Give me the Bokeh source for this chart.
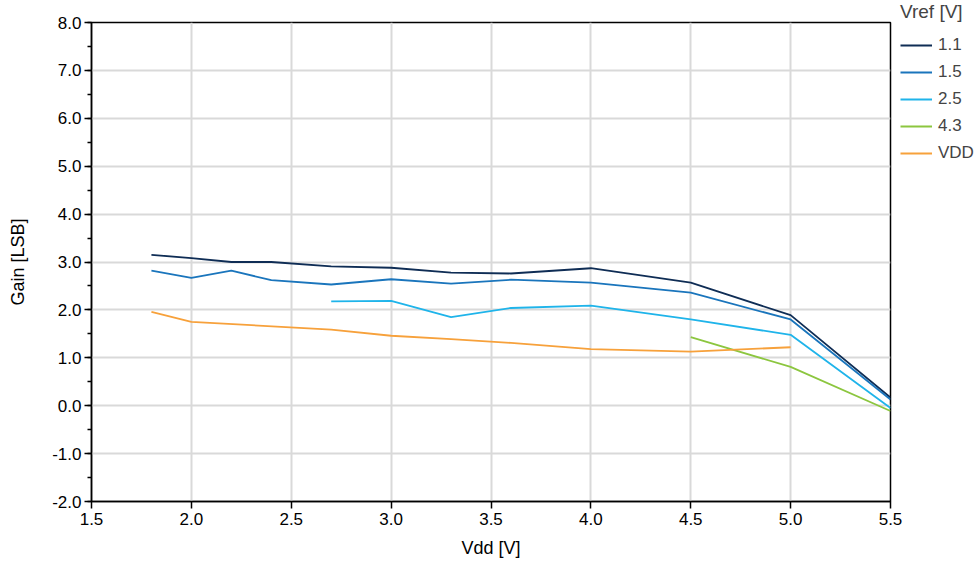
from bokeh.plotting import figure
from bokeh.models import Legend, LegendItem, SingleIntervalTicker, PrintfTickFormatter, Range1d
from bokeh.embed import file_html
from bokeh.resources import INLINE

vdd_11 = [1.8, 2.0, 2.2, 2.4, 2.7, 3.0, 3.3, 3.6, 4.0, 4.5, 5.0, 5.5]
gain_11 = [3.15, 3.08, 3.00, 3.00, 2.91, 2.88, 2.78, 2.76, 2.87, 2.57, 1.89, 0.17]

vdd_15 = [1.8, 2.0, 2.2, 2.4, 2.7, 3.0, 3.3, 3.6, 4.0, 4.5, 5.0, 5.5]
gain_15 = [2.82, 2.67, 2.82, 2.62, 2.53, 2.64, 2.55, 2.63, 2.57, 2.36, 1.80, 0.13]

vdd_25 = [2.7, 3.0, 3.3, 3.6, 4.0, 4.5, 5.0, 5.5]
gain_25 = [2.18, 2.19, 1.85, 2.04, 2.09, 1.80, 1.48, -0.05]

vdd_43 = [4.5, 5.0, 5.5]
gain_43 = [1.43, 0.81, -0.11]

vdd_vdd = [1.8, 2.0, 2.7, 3.0, 3.3, 3.6, 4.0, 4.5, 5.0]
gain_vdd = [1.96, 1.75, 1.59, 1.46, 1.39, 1.31, 1.18, 1.13, 1.22]

series_names = ["1.1", "1.5", "2.5", "4.3", "VDD"]
series_colors = ["#0f2d55", "#1a75bc", "#1fb4ea", "#8cc63f", "#f7a13b"]

FONT = "Liberation Sans"

p = figure(width=980, height=571, frame_width=799, frame_height=479,
           min_border_left=91, min_border_top=22, min_border_bottom=70, min_border_right=90,
           x_range=Range1d(1.5, 5.5), y_range=Range1d(-2.0, 8.0),
           output_backend="svg", toolbar_location=None)

p.background_fill_color = "white"
p.border_fill_color = "white"
p.outline_line_color = "black"
p.outline_line_width = 1.5
p.outline_line_alpha = 1.0

p.xaxis.ticker = SingleIntervalTicker(interval=0.5, num_minor_ticks=0)
p.yaxis.ticker = SingleIntervalTicker(interval=1.0, num_minor_ticks=2)
p.xaxis.formatter = PrintfTickFormatter(format="%.1f")
p.yaxis.formatter = PrintfTickFormatter(format="%.1f")

for ax in (p.xaxis, p.yaxis):
    ax.axis_line_color = "black"
    ax.axis_line_width = 1.5
    ax.major_tick_line_color = "black"
    ax.major_tick_line_width = 1.5
    ax.major_tick_in = 0
    ax.major_tick_out = 7
    ax.minor_tick_line_color = "black"
    ax.minor_tick_line_width = 1.5
    ax.minor_tick_in = 0
    ax.minor_tick_out = 4
    ax.major_label_text_font = FONT
    ax.major_label_text_font_size = "17px"
    ax.major_label_text_color = "black"
    ax.axis_label_text_font = FONT
    ax.axis_label_text_font_size = "18px"
    ax.axis_label_text_font_style = "normal"
    ax.axis_label_text_color = "black"

p.xaxis.minor_tick_line_color = None
p.xaxis.axis_label = "Vdd [V]"
p.yaxis.axis_label = "Gain [LSB]"
p.xaxis.major_label_standoff = 4
p.yaxis.major_label_standoff = 3
p.xaxis.axis_label_standoff = 10
p.yaxis.axis_label_standoff = 21

p.grid.grid_line_color = "#d9d9d9"
p.grid.grid_line_width = 2

xs = [vdd_11, vdd_15, vdd_25, vdd_43, vdd_vdd]
ys = [gain_11, gain_15, gain_25, gain_43, gain_vdd]
items = []
for name, color, x, y in zip(series_names, series_colors, xs, ys):
    r = p.line(x, y, line_color=color, line_width=1.8)
    items.append(LegendItem(label=name, renderers=[r]))

legend = Legend(items=items, location=(10, 338), orientation="vertical")
legend.title = "Vref [V]"
legend.title_text_font = FONT
legend.title_text_font_size = "19px"
legend.title_text_font_style = "normal"
legend.title_standoff = 12
legend.label_text_font = FONT
legend.label_text_font_size = "17px"
legend.glyph_width = 32
legend.glyph_height = 20
legend.label_standoff = 6
legend.spacing = 7
legend.padding = 0
legend.margin = 0
legend.border_line_color = None
legend.background_fill_alpha = 0
p.add_layout(legend, "right")

open("out.html", "w").write(file_html(p, INLINE))
